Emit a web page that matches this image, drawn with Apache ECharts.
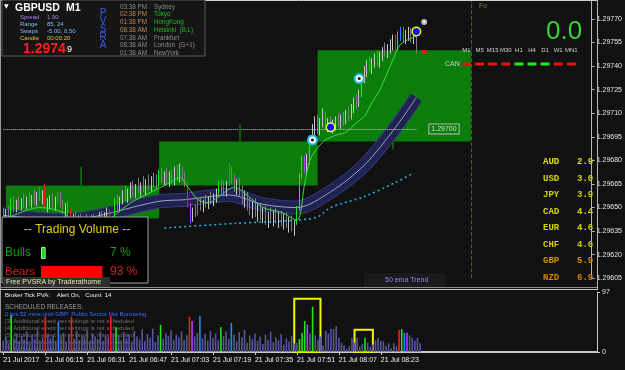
<!DOCTYPE html>
<html lang="en">
<head>
<meta charset="UTF-8">
<title>GBPUSD M1</title>
<script src="https://cdn.jsdelivr.net/npm/echarts@6.0.0/dist/echarts.min.js"></script>
<style>html,body{margin:0;padding:0;background:#111111;}</style>
</head>
<body>
<div id="chart-container" style="width:625px;height:370px;"></div>
<script type="text/javascript">
// prices are kept as pipettes above 1.29000 (650 -> 1.29650)
var BASE = 1.29;

// time axis: one slot per minute, labels every 16 bars
var tickIdx = [0, 16, 32, 48, 64, 80, 96, 112, 128, 144];
var tickLabels = ['21 Jul 2017', '21 Jul 06:15', '21 Jul 06:31', '21 Jul 06:47', '21 Jul 07:03',
    '21 Jul 07:19', '21 Jul 07:35', '21 Jul 07:51', '21 Jul 08:07', '21 Jul 08:23'];

var opens = [646,644,647,645,654,649,653,651,654,652, 655,653,656,654,658,655,657,651,653,655,
    652,654,658,651,648,650,647,639,643,640, 642,639,641,638,640,642,639,641,644,642,
    645,647,636,641,654,651,655,659,656,660, 662,659,663,661,664,662,666,663,667,665,
    664,672,668,670,667,671,668,672,670,674, 669,665,651,643,648,646,654,650,654,652,
    656,654,657,659,665,662,660,665,675,667, 662,665,659,655,657,651,648,652,646,649,
    644,647,641,645,643,646,642,644,640,643, 639,641,637,640,649,670,681,675,679,694,
    699,703,700,705,708,702,704,701,703,706, 703,707,705,710,708,714,717,715,722,732,
    737,741,739,743,745,742,747,750,748,752, 754,757,751,760,763,757,760,762,758,761];
var highs = [650,649,651,656,657,655,657,656,659,657, 660,658,662,660,663,661,665,656,658,659,
    657,660,660,655,653,654,649,646,647,645, 646,644,646,643,645,646,644,647,648,647,
    650,649,644,656,658,657,661,664,662,666, 667,665,669,666,670,668,671,670,672,671,
    674,675,673,675,673,674,676,677,678,676, 673,667,653,650,652,656,657,655,658,657,
    660,659,662,667,668,667,667,678,676,671, 668,669,664,661,660,656,654,656,652,653,
    650,651,647,650,648,650,647,648,646,647, 644,645,642,651,672,683,683,684,696,703,
    708,709,707,713,711,707,708,706,708,710, 709,711,712,714,716,720,722,725,734,740,
    744,746,745,748,750,749,752,755,754,757, 760,760,762,765,765,763,765,764,764,762];
var lows = [642,641,643,644,647,647,649,648,650,649, 651,650,652,651,654,652,650,647,649,650,
    648,652,650,646,644,644,637,636,638,636, 637,635,637,634,636,637,635,638,639,638,
    642,634,633,640,648,648,652,654,653,656, 657,656,659,657,660,658,661,660,663,661,
    663,666,664,665,663,665,664,667,666,667, 663,650,640,641,644,645,648,647,650,649,
    652,651,653,657,659,658,657,664,665,660, 658,657,652,650,648,645,643,644,641,642,
    640,639,637,640,638,640,637,638,636,637, 634,635,632,639,648,668,672,671,677,690,
    695,697,696,701,700,698,699,697,699,701, 700,702,703,705,706,710,713,714,720,729,
    733,736,735,739,740,739,743,746,745,748, 750,749,750,756,755,754,756,755,754,748];
var closes = [644,647,645,654,649,653,651,654,652,655, 653,656,654,658,655,657,651,653,655,652,
    654,658,651,648,650,647,639,643,640,642, 639,641,638,640,642,639,641,644,642,645,
    647,636,641,654,651,655,659,656,660,662, 659,663,661,664,662,666,663,667,665,664,
    672,668,670,667,671,668,672,670,674,669, 665,651,643,648,646,654,650,654,652,656,
    654,657,659,665,662,660,665,675,667,662, 665,659,655,657,651,648,652,646,649,644,
    647,641,645,643,646,642,644,640,643,639, 641,637,640,649,670,681,675,679,694,699,
    703,700,705,708,702,704,701,703,706,703, 707,705,710,708,714,717,715,722,732,737,
    741,739,743,745,742,747,750,748,752,754, 757,751,760,763,757,760,762,758,761,749];

// tick volume per bar
var volumes = [18,25,14,60,22,30,17,26,20,33, 15,28,21,35,19,24,57,30,22,27,
    18,48,25,31,16,29,57,22,34,19, 27,23,36,18,30,25,21,33,17,28,
    24,58,30,40,26,19,32,22,28,15, 34,25,20,37,18,29,23,38,16,27,
    44,21,30,26,35,19,28,24,33,20, 27,57,50,25,31,58,22,29,18,34,
    23,30,19,40,26,33,21,47,28,17, 32,24,36,15,27,21,30,18,25,13,
    28,20,33,16,24,19,29,12,22,17, 26,14,15,21,31,50,44,30,73,27,
    20,25,10,34,30,37,37,42,23,15, 11,5,9,23,15,23,9,13,23,15,
    8,12,19,23,18,17,10,14,6,14, 9,36,37,31,31,27,23,18,23,14];

// PVSRA coloured bars: [bar, kind]
var pvsra = [[3,'bull'],[16,'bear'],[21,'bullRise'],[26,'bear'],[41,'bear'],[43,'bull'],[60,'bull'],
    [71,'bear'],[72,'bearRise'],[75,'bullRise'],[83,'bull'],[87,'bullRise'],[113,'bull'],[114,'bull'],
    [115,'bull'],[116,'bearRise'],[118,'bull'],[138,'bull'],[151,'bear'],[152,'bull'],[153,'bullRise'],[154,'bearRise']];
var pvsraColors = {bull: '#1ee61e', bear: '#ff1a1a', bullRise: '#1e8cff', bearRise: '#b040ff'};

// indicator lines: [bar, pipettes]
var emaFast = [[0,642],[14,650],[23,647],[27,641],[37,638],[42,644],[49,653],[56,659],[62,664],[68,669],
    [71,663],[75,655],[79,653],[83,657],[89,663],[93,659],[100,650],[107,647],[113,642],[116,665],
    [118,680],[121,688],[124,693],[128,696],[132,698],[136,704],[139,708],[142,717],[145,725],
    [150,744],[153,754],[159,759]];
var bandMid = [[0,645],[24,642],[60,654],[70,655],[87,658],[100,652],[113,650],[126,660],[139,677],[151,701],[159,720]];
var ema50 = [[62,637],[90,640],[113,642],[121,644],[126,650],[139,657],[151,666],[158,672]];

// supply/demand zones: [from bar, to bar, top, bottom]
var zones = [[1,60,664,643],[60,121,692,664],[121,180,750,692]];
var zoneTicks = [[30,664,676],[91,692,703],[150,687,692]];

// signal markers [bar, pipettes]
var ringMarks = [[119,693],[137,732]];
var dotMarks = [[126,701],[159,762]];

// highlighted volume clusters: [from bar, to bar, top]
var volBoxes = [[111,121,86],[134,141,36]];

var bullPct = 7, bearPct = 93;
var tfNames = ['M1','M5','M15','M30','H1','H4','D1','W1','MN1'];
var tfUp = [false,false,false,false,true,true,true,false,false];
var currencies = ['AUD','USD','JPY','CAD','EUR','CHF','GBP','NZD'];
var strengths = [2.9, 3.0, 3.9, 4.4, 4.6, 4.6, 5.9, 6.9];
var sessTimes = ['03:38 PM','02:38 PM','01:38 PM','08:38 AM','07:38 AM','08:38 AM','01:38 AM'];
var sessNames = ['Sydney','Tokyo','HongKong','Helsinki  (B.L)','Frankfurt','London  (G+1)','NewYork'];

var container = document.getElementById('chart-container');
var myChart = echarts.init(container);

function px(v) { return +(BASE + v / 100000).toFixed(5); }
function pts(list) { return list.map(function (p) { return [String(p[0]), px(p[1])]; }); }

var cats = [];
for (var i = 0; i < 227; i++) cats.push(String(i));

var classColor = {};
pvsra.forEach(function (p) { classColor[p[0]] = pvsraColors[p[1]]; });

var candleData = opens.map(function (o, i) {
    var item = {value: [px(o), px(closes[i]), px(lows[i]), px(highs[i])]};
    var c = classColor[i];
    if (c) item.itemStyle = {color: c, color0: c, borderColor: c, borderColor0: c};
    return item;
});
var volData = volumes.map(function (v, i) {
    return {value: v, itemStyle: {color: classColor[i] || '#55559a'}};
});

// ---------- overlay widgets ----------
var F = 'Liberation Sans';
function txt(x, y, s, fill, size, more) {
    var st = {x: x, y: y, text: s, fill: fill, fontSize: size, fontFamily: F, verticalAlign: 'middle', align: 'left'};
    for (var k in (more || {})) st[k] = more[k];
    return {type: 'text', z: 51, silent: true, style: st};
}
function box(x, y, w, h, fill, stroke, z) {
    return {type: 'rect', z: z || 50, silent: true, shape: {x: x, y: y, width: w, height: h},
        style: {fill: fill, stroke: stroke || null, lineWidth: 1}};
}
function seg(x1, y1, x2, y2, color, w, z) {
    return {type: 'line', z: z || 50, silent: true, shape: {x1: x1, y1: y1, x2: x2, y2: y2},
        style: {stroke: color, lineWidth: w || 1}};
}

var g = [];
g.push(seg(0, 0.5, 597, 0.5, '#cfcfcf'));
g.push(seg(0.5, 0, 0.5, 353, '#9a9a9a'));
g.push(seg(597.5, 0, 597.5, 289, '#b4b4b4'));
g.push(seg(0, 287.5, 597, 287.5, '#8a8a8a'));
g.push(seg(0, 289.5, 598, 289.5, '#c8c8c8'));

// info panel
g.push(box(2, 0, 203, 56, '#151515', '#5a5a5a'));
g.push(txt(4, 6, '\u25BC', '#ffffff', 6, {fontFamily: 'DejaVu Sans'}));
g.push(txt(15, 8, 'GBPUSD', '#ffffff', 10.5, {fontWeight: 'bold'}));
g.push(txt(66, 8, 'M1', '#ffffff', 10.5, {fontWeight: 'bold'}));
var infoRows = [['Spread', '1.90', '#b07cff'], ['Range', '85, 24', '#86b9ff'],
    ['Swaps', '-5.00, 0.50', '#86b9ff'], ['Candle', '00:00:20', '#e6c229']];
infoRows.forEach(function (r, k) {
    g.push(txt(20, 17.5 + k * 6.8, r[0], r[2], 6));
    g.push(txt(47, 17.5 + k * 6.8, r[1], r[2], 6));
});
g.push(txt(23, 49, '1.2974', '#ff1e1e', 14, {fontWeight: 'bold'}));
g.push(txt(67, 50, '9', '#ffffff', 9));
'PVSRA'.split('').forEach(function (ch, k) {
    g.push(txt(103, 13 + k * 8, ch, '#3a5ae0', 10, {align: 'center'}));
});
var timeCols = ['#8c8c8c', '#c08a40', '#c08a40', '#b09060', '#8c8c8c', '#8c8c8c', '#8c8c8c'];
var cityCols = ['#8c8c8c', '#22b822', '#22b822', '#22b822', '#8c8c8c', '#8c8c8c', '#8c8c8c'];
sessTimes.forEach(function (t, k) {
    g.push(txt(120, 7 + k * 7.7, t, timeCols[k], 6.3));
    g.push(txt(154, 7 + k * 7.7, sessNames[k], cityCols[k], 6.3));
});

// top right
g.push(txt(546, 32, '0.0', '#3ad23a', 26));
g.push(txt(479, 6, 'Fo', '#8c7c50', 7));
tfNames.forEach(function (n, k) {
    var cx = 466.5 + k * 13.1;
    g.push(txt(cx, 50.5, n, '#d2d2d2', 6, {align: 'center'}));
    g.push(box(cx - 4.5, 62.5, 9, 3, tfUp[k] ? '#22ee22' : '#ee1111', null, 51));
});
g.push(txt(445, 64, 'CAN', '#d0d0d0', 7));
var curCols = ['#e0e000', '#d8d800', '#d4d000', '#d8d400', '#d8d400', '#d4c800', '#d89000', '#d88000'];
currencies.forEach(function (c, k) {
    var y = 162 + k * 16.5;
    g.push(txt(543, y, c, curCols[k], 9, {fontFamily: 'Liberation Mono', fontWeight: 'bold'}));
    g.push(txt(577, y, strengths[k].toFixed(1), curCols[k], 9, {fontFamily: 'Liberation Mono', fontWeight: 'bold'}));
});

// trading volume box
g.push(box(2, 217, 146, 66, '#000000', '#a0a0a0'));
g.push(txt(77, 230, '-- Trading Volume --', '#e6cf00', 12, {align: 'center'}));
g.push(txt(5, 253, 'Bulls', '#1a9a1a', 12));
g.push(txt(110, 253, bullPct + ' %', '#1a9a1a', 12));
g.push(txt(5, 272, 'Bears', '#d02020', 11.5));
g.push(txt(110, 272, bearPct + ' %', '#d02020', 12));
g.push(box(3, 277, 107, 10, '#2e2e2e', null, 52));
var foot = txt(6, 282, 'Free PVSRA by Traderathome', '#e8e4b0', 7); foot.z = 53; g.push(foot);

// lower panel texts (behind volume bars)
var lowTxt = [
    txt(5, 295.5, 'Broker Tick PVA:    Alert On,   Count  14', '#f0f0f0', 6),
    txt(5, 307.5, 'SCHEDULED RELEASES:', '#9c9c9c', 6.5),
    txt(5, 314.5, '2 hrs 52 mins until GBP: Public Sector Net Borrowing', '#3d6bff', 6)
];
for (var r = 0; r < 5; r++) {
    lowTxt.push(txt(5, 321.5 + r * 7, '[' + (r + 3) + '] Additional event per settings is not scheduled', '#6e6e6e', 6));
}
lowTxt.forEach(function (e) { e.z = 1; g.push(e); });
g.push(box(364, 273, 82, 14, '#1a1a1a', null));
g.push(txt(385, 280, '50 ema Trend', '#8a8aff', 7));

var option = {
    backgroundColor: '#111111',
    animation: false,
    textStyle: {fontFamily: F},
    grid: [
        {left: 2, right: 28, top: 0, height: 278.3},
        {left: 2, right: 28, top: 292, height: 60},
        {left: 41, top: 243.5, width: 66, height: 38}
    ],
    xAxis: [
        {gridIndex: 0, type: 'category', data: cats, axisLine: {show: false}, axisTick: {show: false},
            axisLabel: {show: false}, splitLine: {show: false}},
        {gridIndex: 1, type: 'category', data: cats,
            axisLine: {show: true, lineStyle: {color: '#c8c8c8', width: 2}},
            axisTick: {show: true, alignWithLabel: true, length: 3, lineStyle: {color: '#c8c8c8'},
                interval: function (idx) { return tickIdx.indexOf(idx) >= 0; }},
            axisLabel: {color: '#f0f0f0', fontSize: 7, margin: 5, align: 'left',
                interval: function (idx) { return tickIdx.indexOf(idx) >= 0; },
                formatter: function (v) { return tickLabels[tickIdx.indexOf(Number(v))] || ''; }}},
        {gridIndex: 2, type: 'value', min: 0, max: 100, show: false}
    ],
    yAxis: [
        {gridIndex: 0, type: 'value', position: 'right', min: 1.29605, max: 1.29782, interval: 0.00015,
            splitLine: {show: false},
            axisLine: {show: true, lineStyle: {color: '#b4b4b4'}},
            axisTick: {show: true, length: 3, lineStyle: {color: '#b4b4b4'}},
            axisLabel: {color: '#e6e6e6', fontSize: 7, margin: 5, showMaxLabel: false,
                formatter: function (v) { return v.toFixed(5); }}},
        {gridIndex: 1, type: 'value', position: 'right', min: 0, max: 97, interval: 97,
            splitLine: {show: false},
            axisLine: {show: true, lineStyle: {color: '#c8c8c8'}},
            axisTick: {show: true, length: 3, lineStyle: {color: '#c8c8c8'}},
            axisLabel: {color: '#e6e6e6', fontSize: 7, margin: 5}},
        {gridIndex: 2, type: 'category', data: ['Bulls', 'Bears'], inverse: true, show: false}
    ],
    graphic: {elements: g},
    series: [
        {
            name: 'zones', type: 'line', data: [], z: 1, silent: true,
            markArea: {
                silent: true, itemStyle: {color: '#0b7d0b'},
                data: zones.map(function (zn) {
                    return [{coord: [String(zn[0]), px(zn[2])]}, {coord: [String(zn[1]), px(zn[3])]}];
                })
            }
        },
        {name: 'band edge', type: 'line', data: pts(bandMid), smooth: 0.3, symbol: 'none', z: 2,
            silent: true, lineStyle: {color: '#33377c', width: 14}},
        {name: 'band', type: 'line', data: pts(bandMid), smooth: 0.3, symbol: 'none', z: 2,
            silent: true, lineStyle: {color: '#20234f', width: 12}},
        {name: 'band mid', type: 'line', data: pts(bandMid), smooth: 0.3, symbol: 'none', z: 2,
            silent: true, lineStyle: {color: '#9ca0d0', width: 1}},
        {
            name: 'GBPUSD', type: 'candlestick', data: candleData, barWidth: 1, z: 3,
            itemStyle: {color: '#c4c4c4', color0: '#7e7e7e', borderColor: '#c4c4c4', borderColor0: '#7e7e7e', borderWidth: 1},
            markLine: {
                silent: true, symbol: ['none', 'none'], animation: false,
                label: {show: true, position: 'end', distance: 1, fontSize: 7, padding: [1, 2]},
                data: [
                    {yAxis: px(768), lineStyle: {color: '#ff4a0a', type: 'solid', width: 1},
                        label: {formatter: '1.29768', backgroundColor: '#ff4d0d', color: '#111111'}},
                    {yAxis: px(749), lineStyle: {color: '#7e6650', type: 'dotted', width: 1},
                        label: {formatter: '1.29749', backgroundColor: '#ffffff', color: '#000000'}},
                    [{coord: ['0', px(700)], lineStyle: {color: '#c8c8c8', type: 'dotted', width: 1},
                        label: {formatter: '1.29700', color: '#dddddd', backgroundColor: '#0b7d0b',
                            borderColor: '#bbbbbb', borderWidth: 1, distance: 13}},
                        {coord: ['159', px(700)]}],
                    {xAxis: '180', lineStyle: {color: '#5c5540', type: 'dashed', width: 1}, label: {show: false}}
                ].concat(zoneTicks.map(function (t) {
                    return [{coord: [String(t[0]), px(t[1])], lineStyle: {color: '#0d5c0d', type: 'solid', width: 2},
                        label: {show: false}}, {coord: [String(t[0]), px(t[2])]}];
                }))
            }
        },
        {name: '50 ema', type: 'line', data: pts(ema50), smooth: 0.3, symbol: 'none', z: 4,
            silent: true, lineStyle: {color: '#19b5e6', width: 1.5, type: [2, 3]}},
        {name: 'ema', type: 'line', data: pts(emaFast), smooth: 0.3, symbol: 'none', z: 4,
            silent: true, lineStyle: {color: '#40dc40', width: 1}},
        {name: 'ring', type: 'scatter', data: pts(ringMarks), symbolSize: 11, z: 5, itemStyle: {color: '#26b6ee', opacity: 1}},
        {name: 'ring in', type: 'scatter', data: pts(ringMarks), symbolSize: 7, z: 5, itemStyle: {color: '#ffffff', opacity: 1}},
        {name: 'ring c', type: 'scatter', data: pts(ringMarks), symbolSize: 3, z: 5, itemStyle: {color: '#111111', opacity: 1}},
        {name: 'dot', type: 'scatter', data: pts(dotMarks), symbolSize: 10, z: 5, itemStyle: {color: '#ffff00', opacity: 1}},
        {name: 'dot in', type: 'scatter', data: pts(dotMarks), symbolSize: 7, z: 5, itemStyle: {color: '#0a14ff', opacity: 1}},
        {name: 'last', type: 'scatter', data: [['162', px(768)]], symbol: 'emptyCircle', symbolSize: 4, z: 5,
            itemStyle: {color: '#bbbbbb', opacity: 1}},
        {name: 'bid', type: 'scatter', data: [['162', px(749)]], symbol: 'rect', symbolSize: 4, z: 5,
            itemStyle: {color: '#ff1010', opacity: 1}},
        {
            name: 'volume', type: 'bar', xAxisIndex: 1, yAxisIndex: 1, data: volData, barWidth: 1.6, z: 3
        },
        {
            name: 'volume boxes', type: 'line', xAxisIndex: 1, yAxisIndex: 1, data: [], z: 4, silent: true,
            markArea: {
                silent: true,
                itemStyle: {color: 'rgba(0,0,0,0)', borderColor: '#f2f200', borderWidth: 2},
                data: volBoxes.map(function (b) {
                    return [{coord: [String(b[0]), b[2]]}, {coord: [String(b[1]), 0]}];
                })
            }
        },
        {
            name: 'share', type: 'bar', xAxisIndex: 2, yAxisIndex: 2, barWidth: 12, z: 60, silent: true,
            data: [
                {value: bullPct, itemStyle: {color: '#22cc22', borderColor: '#8cff8c', borderWidth: 1}},
                {value: bearPct, itemStyle: {color: '#ff0000'}}
            ]
        }
    ]
};

myChart.setOption(option);
</script>
</body>
</html>
